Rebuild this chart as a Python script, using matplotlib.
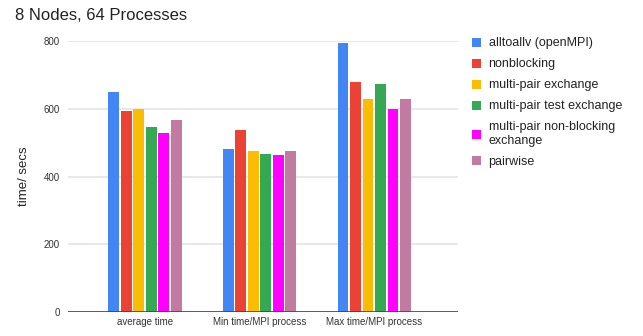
import matplotlib
matplotlib.use('Agg')
import matplotlib.pyplot as plt
from matplotlib.patches import Patch
import numpy as np

plt.rcParams['font.family'] = ['Liberation Sans', 'DejaVu Sans']

categories = ['average time', 'Min time/MPI process', 'Max time/MPI process']
series = ['alltoallv (openMPI)', 'nonblocking', 'multi-pair exchange',
          'multi-pair test exchange', 'multi-pair non-blocking\nexchange', 'pairwise']
colors = ['#4285F4', '#EA4335', '#FBBC04', '#34A853', '#FF00FF', '#C27BA0']

alltoallv = [650, 481, 795]
nonblocking = [593, 538, 678]
multi_pair = [600, 474, 630]
multi_pair_test = [547, 465, 673]
multi_pair_nb = [527, 462, 600]
pairwise = [567, 474, 630]
values = [alltoallv, nonblocking, multi_pair, multi_pair_test, multi_pair_nb, pairwise]

fig = plt.figure(figsize=(6.43, 3.36), dpi=100)
ax = fig.add_axes([0.106, 0.0714, 0.606, 0.8066])

x = np.arange(len(categories))
slot = 0.109
bw = 0.093
for i, (vals, c) in enumerate(zip(values, colors)):
    ax.bar(x + (i - 2.5) * slot, vals, width=bw, color=c, zorder=3)

ax.set_xlim(-0.67, 2.73)
ax.set_ylim(0, 800)
ax.set_yticks([0, 200, 400, 600, 800])
ax.yaxis.grid(True, color='#e4e4e4', linewidth=1.2, zorder=0)
ax.axhline(0, color='#444444', linewidth=1.2, zorder=4)
for s in ax.spines.values():
    s.set_visible(False)
ax.tick_params(axis='both', length=0, labelsize=7, colors='#333333')
ax.tick_params(axis='y', pad=6)
ax.set_xticks(x)
ax.set_xticklabels(categories)
ax.set_ylabel('time/ secs', fontsize=9.5, color='#222222', labelpad=10)

fig.text(0.023, 0.955, '8 Nodes, 64 Processes', fontsize=12, color='#222222', va='center')

handles = [Patch(facecolor=c, edgecolor='none') for c in colors]
fig.legend(handles, series, loc='upper left', bbox_to_anchor=(0.716, 0.922),
           frameon=False, fontsize=9, handlelength=0.75, handleheight=0.75,
           handletextpad=0.6, labelspacing=0.72, labelcolor='#222222')

fig.savefig('out.png', dpi=100, facecolor='white')
